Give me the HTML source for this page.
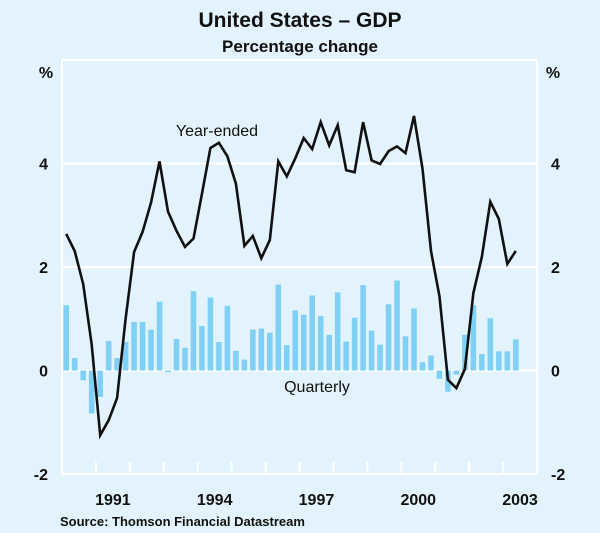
<!DOCTYPE html>
<html><head><meta charset="utf-8"><style>
html,body{margin:0;padding:0;background:#e2f3fd;}
svg{display:block;font-family:"Liberation Sans",Arial,sans-serif;}
</style></head><body>
<svg id="chart" width="600" height="533" viewBox="0 0 600 533">
<rect x="0" y="0" width="600" height="533" fill="#e2f3fd"/>
<text x="300" y="27" text-anchor="middle" font-size="21" font-weight="bold" fill="#111">United States – GDP</text>
<text x="300" y="52" text-anchor="middle" font-size="17" font-weight="bold" fill="#111">Percentage change</text>
<text x="46" y="78" text-anchor="middle" font-size="16" font-weight="bold" fill="#111">%</text>
<text x="553" y="78" text-anchor="middle" font-size="16" font-weight="bold" fill="#111">%</text>
<g id="grid"></g>
<g id="bars"></g>
<g id="line"></g>
<g id="axes"></g>
<text x="217" y="136" text-anchor="middle" font-size="16" fill="#111">Year-ended</text>
<text x="317" y="392" text-anchor="middle" font-size="16" fill="#111">Quarterly</text>
<text x="60" y="526" font-size="13" font-weight="bold" fill="#111">Source: Thomson Financial Datastream</text>
</svg>
<script>
const quarterly = [1.26,0.24,-0.19,-0.83,-0.51,0.57,0.24,0.55,0.94,0.94,0.79,1.33,-0.03,0.61,0.44,1.53,0.86,1.41,0.55,1.25,0.38,0.21,0.79,0.81,0.73,1.66,0.49,1.16,1.08,1.45,1.05,0.69,1.51,0.56,1.02,1.65,0.77,0.5,1.28,1.74,0.66,1.2,0.16,0.29,-0.16,-0.41,-0.08,0.69,1.26,0.32,1.01,0.37,0.37,0.6];
const yearEnded = [2.64,2.31,1.67,0.5,-1.25,-0.96,-0.53,1.0,2.29,2.68,3.25,4.04,3.07,2.7,2.39,2.55,3.42,4.3,4.4,4.14,3.61,2.41,2.6,2.17,2.52,4.04,3.75,4.1,4.49,4.28,4.8,4.35,4.74,3.87,3.83,4.8,4.06,3.99,4.24,4.33,4.2,4.92,3.9,2.31,1.43,-0.18,-0.34,0.03,1.5,2.2,3.26,2.93,2.06,2.31];
const yTicks = [-2,0,2,4];
const yearLabels = [1991,1994,1997,2000,2003];
const startYear = 1990, endYear = 2004;
const L=62,R=537,T=60,B=474,yMin=-2,yMax=6;
const NS='http://www.w3.org/2000/svg';
function x(t){return L+(t-startYear)/(endYear-startYear)*(R-L);}
function y(v){return B-(v-yMin)/(yMax-yMin)*(B-T);}
function mk(tag,attrs,parent){const e=document.createElementNS(NS,tag);for(const k in attrs)e.setAttribute(k,attrs[k]);document.getElementById(parent).appendChild(e);return e;}
yTicks.forEach(v=>{
  const g=mk('line',{x1:L,x2:R,y1:y(v),y2:y(v),stroke:'#fff','stroke-width':2},'grid');
  
  
  const a=mk('text',{x:48,y:y(v)+6,'text-anchor':'end','font-size':16,'font-weight':'bold',fill:'#111'},'axes');
  a.textContent=v;
  
  
  const b=mk('text',{x:551,y:y(v)+6,'text-anchor':'start','font-size':16,'font-weight':'bold',fill:'#111'},'axes');
  b.textContent=v;
  
  
});
const fr=mk('polyline',{points:`${L},${T} ${L},${B} ${R},${B} ${R},${T}`,fill:'none',stroke:'#fff','stroke-width':2},'axes');


const tp=mk('line',{x1:L,x2:R,y1:T,y2:T,stroke:'#fff','stroke-width':2},'axes');


for(let yr=startYear+1;yr<endYear;yr++){
  const t=mk('line',{x1:x(yr),x2:x(yr),y1:B,y2:B-12,stroke:'#fff','stroke-width':2},'axes');
  
  
}
yearLabels.forEach(yr=>{
  const t=mk('text',{x:x(yr+0.5),y:B+31,'text-anchor':'middle','font-size':16,'font-weight':'bold',fill:'#111'},'axes');
  t.textContent=yr;
  
  
});
const qw=(R-L)/((endYear-startYear)*4);
quarterly.forEach((v,i)=>{
  const cx=x(startYear+(i+0.5)/4);
  const y0=y(0),y1=y(v);
  const r=mk('rect',{x:cx-qw*0.33,width:qw*0.66,y:Math.min(y0,y1),height:Math.max(Math.abs(y1-y0),1),fill:'#80d0f6'},'bars');
  
  
});
const pts=yearEnded.map((v,i)=>x(startYear+(i+0.5)/4).toFixed(1)+','+y(v).toFixed(1)).join(' ');
const pl=mk('polyline',{points:pts,fill:'none',stroke:'#111','stroke-width':2.6,'stroke-linejoin':'miter'},'line');


</script>
</body></html>
